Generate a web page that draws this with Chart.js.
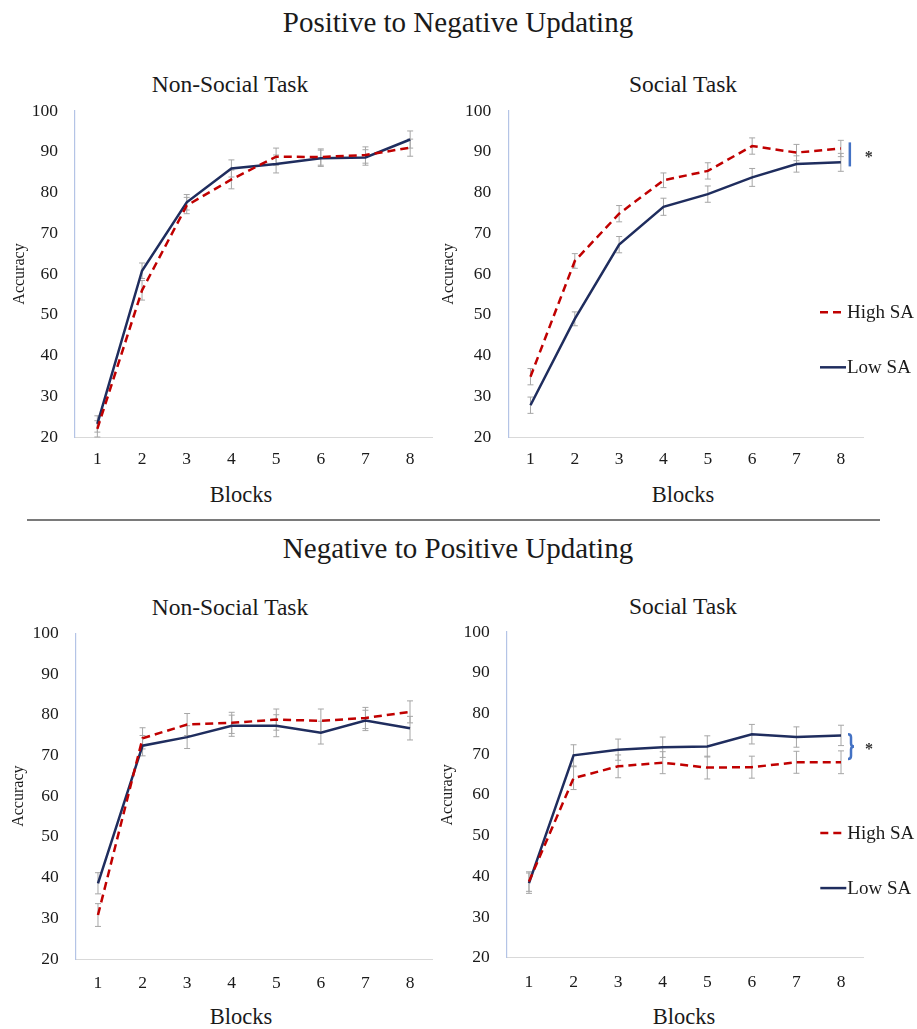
<!DOCTYPE html>
<html>
<head>
<meta charset="utf-8">
<script src="https://cdn.jsdelivr.net/npm/chart.js@4.4.0/dist/chart.umd.min.js"></script>
<style>
  body { margin: 0; background: #fff; width: 917px; height: 1029px; position: relative; overflow: hidden;
         font-family: 'Liberation Serif', 'Times New Roman', serif; color: #1a1a1a; }
  .txt { position: absolute; transform: translate(-50%, -50%); white-space: nowrap; line-height: 1; }
  .heading { font-size: 29px; }
  .panel { font-size: 23.5px; }
  .axis { font-size: 22.5px; }
  .rule { position: absolute; left: 27px; width: 853px; top: 519px; height: 2px; background: #7a7a7a; }
  canvas { position: absolute; }
</style>
</head>
<body>
<div class="txt heading" style="left:458px;top:22px">Positive to Negative Updating</div>
<div class="rule"></div>
<div class="txt heading" style="left:458px;top:548px">Negative to Positive Updating</div>

<div class="txt panel" style="left:230px;top:85px">Non-Social Task</div>
<div class="txt panel" style="left:683px;top:85px">Social Task</div>
<div class="txt panel" style="left:230px;top:608px">Non-Social Task</div>
<div class="txt panel" style="left:683px;top:607px">Social Task</div>

<div class="txt axis" style="left:241px;top:495px">Blocks</div>
<div class="txt axis" style="left:683px;top:495px">Blocks</div>
<div class="txt axis" style="left:241px;top:1017px">Blocks</div>
<div class="txt axis" style="left:684px;top:1017px">Blocks</div>

<canvas id="posNonSocial" width="450" height="450" style="left:0;top:60px;width:450px;height:450px"></canvas>
<canvas id="posSocial" width="477" height="450" style="left:440px;top:60px;width:477px;height:450px"></canvas>
<canvas id="negNonSocial" width="450" height="459" style="left:0;top:570px;width:450px;height:459px"></canvas>
<canvas id="negSocial" width="477" height="459" style="left:440px;top:570px;width:477px;height:459px"></canvas>

<script>
const blocks = ['1', '2', '3', '4', '5', '6', '7', '8'];
const seriesNames = ['High SA', 'Low SA'];

// Positive to Negative, Non-Social
const posNonSocialHigh = [22.0, 56.0, 76.8, 83.2, 88.8, 88.7, 89.2, 91.0];
const posNonSocialLow = [23.2, 60.8, 77.6, 85.9, 87.0, 88.4, 88.6, 93.0];
const posNonSocialHighErr = [2.0, 2.4, 2.0, 2.3, 2.1, 2.0, 2.0, 2.1];
const posNonSocialLowErr = [2.0, 1.9, 1.9, 2.1, 2.2, 2.0, 1.9, 2.1];

// Positive to Negative, Social
const posSocialHigh = [34.8, 63.2, 74.8, 83.0, 85.3, 91.4, 89.8, 90.8];
const posSocialLow = [27.8, 49.0, 67.2, 76.5, 79.6, 83.7, 87.0, 87.4];
const posSocialHighErr = [2.0, 1.8, 2.0, 1.8, 2.0, 2.0, 2.0, 2.0];
const posSocialLowErr = [2.0, 1.7, 2.0, 2.1, 2.0, 2.2, 2.0, 2.2];

// Negative to Positive, Non-Social
const negNonSocialHigh = [30.8, 74.2, 77.6, 78.0, 78.8, 78.5, 79.2, 80.7];
const negNonSocialLow = [38.6, 72.4, 74.5, 77.3, 77.3, 75.6, 78.6, 76.7];
const negNonSocialHighErr = [2.8, 2.6, 2.7, 2.6, 2.6, 2.9, 2.6, 2.7];
const negNonSocialLowErr = [2.6, 2.5, 2.8, 2.6, 2.7, 2.8, 2.5, 2.9];

// Negative to Positive, Social
const negSocialHigh = [38.7, 64.1, 67.0, 67.9, 66.7, 66.8, 68.0, 68.0];
const negSocialLow = [38.3, 69.7, 71.1, 71.7, 71.9, 74.9, 74.2, 74.6];
const negSocialHighErr = [2.4, 2.8, 2.8, 2.7, 2.8, 2.7, 2.7, 2.8];
const negSocialLowErr = [2.5, 2.6, 2.6, 2.5, 2.6, 2.4, 2.5, 2.5];

// significance bracket spans (accuracy values)
const posSocialSig = [92.3, 86.4];
const negSocialSig = [74.9, 68.8];
const legendLevels = [50.6, 37.1];

const serif = "'Liberation Serif', 'Times New Roman', serif";
const ink = '#1a1a1a';

const errorBars = {
    id: 'errorBars',
    beforeDatasetsDraw(chart) {
        const ctx = chart.ctx;
        const y = chart.scales.y;
        ctx.save();
        ctx.strokeStyle = '#a6a6a6';
        ctx.lineWidth = 1;
        chart.data.datasets.forEach((ds, i) => {
            chart.getDatasetMeta(i).data.forEach((pt, j) => {
                const top = y.getPixelForValue(ds.data[j] + ds.errors[j]);
                const bot = y.getPixelForValue(ds.data[j] - ds.errors[j]);
                ctx.beginPath();
                ctx.moveTo(pt.x, top); ctx.lineTo(pt.x, bot);
                ctx.moveTo(pt.x - 3, top); ctx.lineTo(pt.x + 3, top);
                ctx.moveTo(pt.x - 3, bot); ctx.lineTo(pt.x + 3, bot);
                ctx.stroke();
            });
        });
        ctx.restore();
    }
};

const sideLegend = {
    id: 'sideLegend',
    afterDraw(chart, args, opts) {
        if (!opts.show) return;
        const ctx = chart.ctx;
        const area = chart.chartArea;
        const y = chart.scales.y;
        ctx.save();
        chart.data.datasets.forEach((ds, i) => {
            const py = y.getPixelForValue(opts.levels[i]);
            ctx.strokeStyle = ds.borderColor;
            ctx.lineWidth = ds.borderWidth;
            ctx.setLineDash(ds.borderDash || []);
            ctx.beginPath();
            ctx.moveTo(area.right - 43, py);
            ctx.lineTo(area.right - 17, py);
            ctx.stroke();
            ctx.setLineDash([]);
            ctx.fillStyle = ink;
            ctx.font = '19px ' + serif;
            ctx.textBaseline = 'middle';
            ctx.textAlign = 'left';
            ctx.fillText(ds.label, area.right - 16, py + 1);
        });
        ctx.restore();
    }
};

const sigBracket = {
    id: 'sigBracket',
    afterDraw(chart, args, opts) {
        if (!opts.span) return;
        const ctx = chart.ctx;
        const y = chart.scales.y;
        const px = chart.scales.x.getPixelForValue(blocks.length - 1) + 9;
        const top = y.getPixelForValue(opts.span[0]);
        const bot = y.getPixelForValue(opts.span[1]);
        const mid = (top + bot) / 2;
        ctx.save();
        ctx.strokeStyle = '#4472c4';
        ctx.lineWidth = 2.5;
        ctx.beginPath();
        if (opts.brace) {
            ctx.moveTo(px - 2, top);
            ctx.quadraticCurveTo(px + 1, top, px + 1, top + 3);
            ctx.lineTo(px + 1, mid - 3);
            ctx.quadraticCurveTo(px + 1, mid, px + 4, mid);
            ctx.quadraticCurveTo(px + 1, mid, px + 1, mid + 3);
            ctx.lineTo(px + 1, bot - 3);
            ctx.quadraticCurveTo(px + 1, bot, px - 2, bot);
        } else {
            ctx.moveTo(px, top);
            ctx.lineTo(px, bot);
        }
        ctx.stroke();
        ctx.fillStyle = '#333';
        ctx.font = 'bold 16px ' + serif;
        ctx.textAlign = 'center';
        ctx.textBaseline = 'middle';
        ctx.fillText('*', px + 19, mid + 3);
        ctx.restore();
    }
};

function makeChart(id, high, highErr, low, lowErr, g) {
    return new Chart(document.getElementById(id), {
        type: 'line',
        data: {
            labels: blocks,
            datasets: [
                { label: seriesNames[0], data: high, errors: highErr, borderColor: '#c00000', borderWidth: 2.5,
                  borderDash: [8, 5], pointRadius: 0, tension: 0, fill: false },
                { label: seriesNames[1], data: low, errors: lowErr, borderColor: '#1f2d5e', borderWidth: 2.5,
                  pointRadius: 0, tension: 0, fill: false }
            ]
        },
        options: {
            responsive: false,
            animation: false,
            events: [],
            layout: { padding: { left: 0, top: g.top, right: g.right, bottom: 0 } },
            plugins: {
                legend: { display: false },
                tooltip: { enabled: false },
                title: { display: false },
                sideLegend: { show: g.legend, levels: legendLevels },
                sigBracket: { span: g.sig, brace: g.brace }
            },
            scales: {
                x: {
                    offset: true,
                    grid: { display: false, drawTicks: false },
                    border: { display: true, color: '#d9d9d9', width: 1 },
                    ticks: { color: ink, font: { family: serif, size: 17.5 }, padding: g.xPad, maxRotation: 0 },
                    afterFit: s => { s.height = g.xHeight; }
                },
                y: {
                    min: 20,
                    max: 100,
                    grid: { display: false, drawTicks: false },
                    border: { display: true, color: '#b4c4e6', width: 1.2 },
                    ticks: { stepSize: 10, color: ink, font: { family: serif, size: 17.5 }, padding: 17 },
                    title: { display: true, text: 'Accuracy', color: ink,
                             font: { family: serif, size: 16, lineHeight: 1 }, padding: { top: g.accPad, bottom: 0 } },
                    afterFit: s => { s.width = g.yWidth; }
                }
            }
        },
        plugins: [errorBars, sideLegend, sigBracket]
    });
}

makeChart('posNonSocial', posNonSocialHigh, posNonSocialHighErr, posNonSocialLow, posNonSocialLowErr,
    { top: 51, right: 17.5, xHeight: 73, xPad: 12, yWidth: 75, accPad: 12, legend: false });
makeChart('posSocial', posSocialHigh, posSocialHighErr, posSocialLow, posSocialLowErr,
    { top: 51, right: 54, xHeight: 73, xPad: 12, yWidth: 68.3, accPad: 0.3, legend: true, sig: posSocialSig, brace: false });
makeChart('negNonSocial', negNonSocialHigh, negNonSocialHighErr, negNonSocialLow, negNonSocialLowErr,
    { top: 63.3, right: 17.7, xHeight: 70, xPad: 14, yWidth: 75.7, accPad: 10.3, legend: false });
makeChart('negSocial', negSocialHigh, negSocialHighErr, negSocialLow, negSocialLowErr,
    { top: 62, right: 53.7, xHeight: 71.3, xPad: 14, yWidth: 66.7, accPad: 0, legend: true, sig: negSocialSig, brace: true });
</script>
</body>
</html>
